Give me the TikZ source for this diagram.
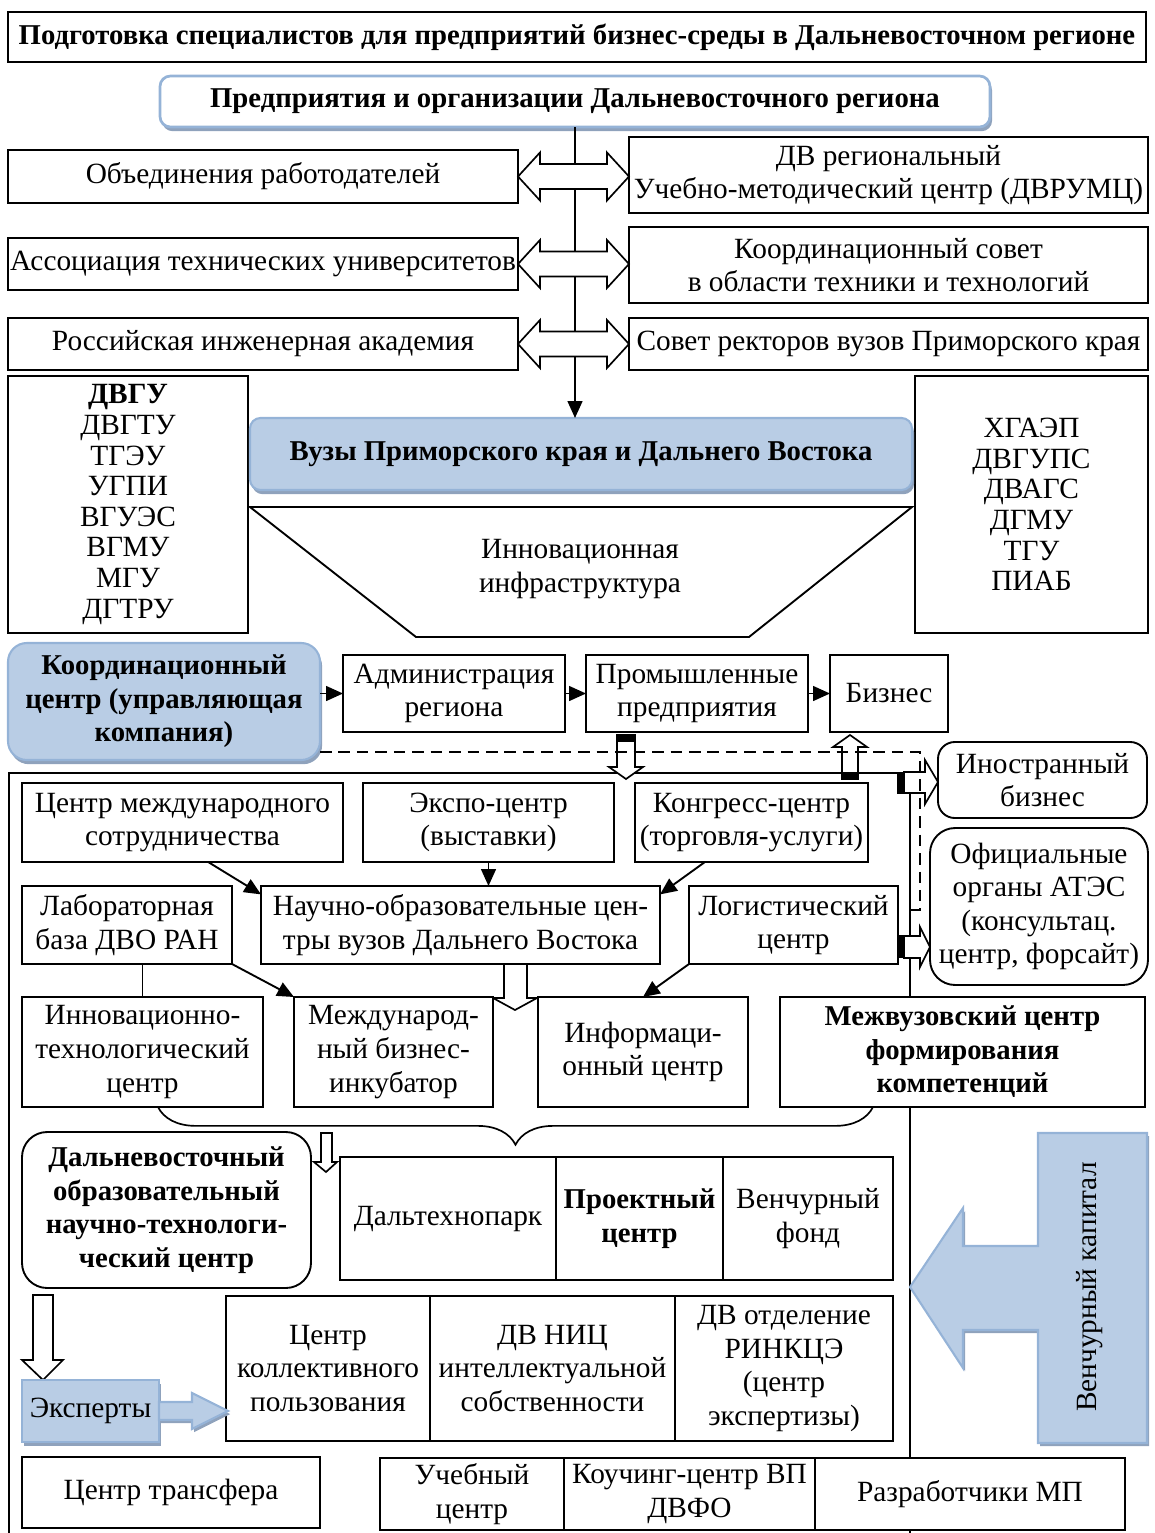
\documentclass[tikz,border=0pt]{standalone}
\usepackage{fontspec}
\setmainfont{Liberation Serif}
\usetikzlibrary{arrows.meta,calc,shadows,decorations.pathreplacing}

\definecolor{boxblue}{HTML}{B9CDE5}
\definecolor{edgeblue}{HTML}{95B3D7}
\definecolor{shadeblue}{HTML}{8FA2BC}
\newcommand\pxunit{0.477pt}

\tikzset{
  txt/.style={font=\fontsize{14pt}{16pt}\selectfont, align=center},
  btext/.style={font=\fontsize{13.7pt}{16pt}\selectfont\bfseries},
  unilist/.style={font=\fontsize{14pt}{14.6pt}\selectfont},
  cell/.style n args={4}{minimum width={(#3-#1)*\pxunit}, minimum height={(#4-#2)*\pxunit},
    at={({(#1+#3)/2},{(#2+#4)/2})}},
  box/.style={txt, draw, line width=0.9pt, fill=white, inner sep=0pt, outer sep=0pt},
  rbox/.style={box, rounded corners=#1},
  bluebox/.style={box, fill=boxblue, draw=edgeblue, line width=1pt, rounded corners=#1,
    drop shadow={shadow xshift=1pt, shadow yshift=-2pt, fill=shadeblue, opacity=1}},
  conn/.style={line width=0.9pt, -{Triangle[length=8pt,width=7pt]}},
  blockarrow/.style={draw, fill=white, line width=0.8pt, line join=miter},
  bluearrow/.style={fill=boxblue, draw=edgeblue, line width=1pt, line join=miter,
    drop shadow={shadow xshift=1pt, shadow yshift=-1.5pt, fill=shadeblue, opacity=1}},
  dashline/.style={line width=0.9pt, dash pattern=on 5.5pt off 3.3pt},
  frameline/.style={line width=0.7pt},
  bracepath/.style={line width=0.8pt, decorate, decoration={brace, mirror, amplitude=18pt}},
}

\begin{document}
\begin{tikzpicture}[x=\pxunit, y=-\pxunit]
\useasboundingbox (0,0) rectangle (1154,1533);

\draw[frameline] (9,1533) -- (9,773) -- (904,773);
\draw[frameline] (910,773) -- (910,1533);

\node[box, btext, cell={8}{12}{1146}{62}] (title) {Подготовка специалистов для предприятий бизнес-среды в Дальневосточном регионе};
\node[bluebox=5pt, fill=white, line width=1.3pt, btext, cell={160}{76}{990}{127}] (pred) {Предприятия и организации Дальневосточного региона};

\node[box, cell={8}{150}{518}{203}] (ob) {Объединения работодателей};
\node[box, cell={629}{137}{1148}{213}] (dvr) {ДВ региональный\\Учебно-методический центр (ДВРУМЦ)};
\node[box, cell={8}{238}{518}{290}] (atu) {Ассоциация технических университетов};
\node[box, cell={629}{227}{1148}{303}] (ks) {Координационный совет\\в области техники и технологий};
\node[box, cell={8}{318}{518}{370}] (ria) {Российская инженерная академия};
\node[box, cell={629}{318}{1148}{370}] (srv) {Совет ректоров вузов Приморского края};

\node[box, unilist, cell={8}{376}{248}{633}] (vl) {\textbf{ДВГУ}\\ДВГТУ\\ТГЭУ\\УГПИ\\ВГУЭС\\ВГМУ\\МГУ\\ДГТРУ};
\node[box, unilist, cell={915}{376}{1148}{633}] (vr) {ХГАЭП\\ДВГУПС\\ДВАГС\\ДГМУ\\ТГУ\\ПИАБ};
\node[bluebox=5pt, btext, cell={250}{418}{912}{490}] (vuz) {Вузы Приморского края и Дальнего Востока};

\draw[conn] (pred.south) -- (pred.south |- vuz.north);
\foreach \l/\r in {ob/dvr,atu/ks,ria/srv}{
  \coordinate (pa) at (\l.east);
  \coordinate (pb) at (\l.east -| \r.west);
  \draw[blockarrow] (pa) -- ++(22,-24) -- ++(0,11.5) -- ($(pb)+(-22,-12.5)$) -- ++(0,-11.5) -- (pb)
    -- ++(-22,24) -- ++(0,-11.5) -- ($(pa)+(22,12.5)$) -- ++(0,11.5) -- cycle;
}

\draw[line width=0.9pt] (250,507) -- (912,507) -- (749,637) -- (416,637) -- cycle;
\node[txt] (innov) at (580,569) {Инновационная\\инфраструктура};

\node[bluebox=9pt, btext, cell={8}{643}{320}{760}] (coord) {Координационный\\центр (управляющая\\компания)};
\node[box, cell={343}{655}{565}{732}] (adm) {Администрация\\региона};
\node[box, cell={586}{655}{808}{732}] (prom) {Промышленные\\предприятия};
\node[box, cell={830}{655}{948}{732}] (biz) {Бизнес};
\draw[conn] (adm.west -| coord.east) -- (adm.west);
\draw[conn] (adm.east) -- (prom.west);
\draw[conn] (prom.east) -- (biz.west);

\node[rbox=8pt, cell={938}{742}{1147}{818}] (inob) {Иностранный\\бизнес};
\node[rbox=12pt, cell={930}{828}{1148}{985}] (apec) {Официальные\\органы АТЭС\\(консультац.\\центр, форсайт)};

\node[box, cell={22}{783}{343}{862}] (cms) {Центр международного\\сотрудничества};
\node[box, cell={363}{783}{614}{862}] (expo) {Экспо-центр\\(выставки)};
\node[box, cell={635}{783}{868}{862}] (kongr) {Конгресс-центр\\(торговля-услуги)};
\node[box, cell={22}{886}{232}{964}] (lab) {Лабораторная\\база ДВО РАН};
\node[box, cell={261}{886}{660}{964}] (nok) {Научно-образовательные цен-\\тры вузов Дальнего Востока};
\node[box, cell={689}{886}{898}{964}] (log) {Логистический\\центр};

\draw[blockarrow] (504,964) -- (527,964) -- (527,998) -- (537,998) -- (515,1010) -- (493,998) -- (504,998) -- cycle;

\node[box, cell={22}{997}{263}{1107}] (itc) {Инновационно-\\технологический\\центр};
\node[box, cell={294}{997}{493}{1107}] (mbi) {Международ-\\ный бизнес-\\инкубатор};
\node[box, cell={538}{997}{748}{1107}] (ic) {Информаци-\\онный центр};
\node[box, btext, cell={780}{997}{1145}{1107}] (mcfk) {Межвузовский центр\\формирования\\компетенций};

\draw[conn] ($(cms.south west)!0.58!(cms.south east)$) -- ([yshift=-4pt]nok.north west);
\draw[conn] (expo.south) -- (expo.south |- nok.north);
\draw[conn] ($(kongr.south west)!0.3!(kongr.south east)$) -- ([yshift=-4pt]nok.north east);
\draw[conn] (lab.south east) -- (mbi.north west);
\draw[line width=0.9pt] (itc.north |- lab.south) -- (itc.north);
\draw[conn] (log.south west) -- (ic.north);

\coordinate (bl) at (158,1107);
\coordinate (br) at (873,1107);
\draw[bracepath] (bl) -- (br);

\node[rbox=12pt, btext, cell={22}{1132}{311}{1288}] (dvont) {Дальневосточный\\образовательный\\научно-технологи-\\ческий центр};
\draw[blockarrow] (321,1133) -- (332,1133) -- (332,1162) -- (337,1162) -- (326,1172) -- (314,1162) -- (321,1162) -- cycle;
\node[box, cell={340}{1157}{556}{1280}] (dtp) {Дальтехнопарк};
\node[box, btext, cell={556}{1157}{723}{1280}] (pc) {Проектный\\центр};
\node[box, cell={723}{1157}{893}{1280}] (vf) {Венчурный\\фонд};

\draw[blockarrow] (33,1295) -- (53,1295) -- (53,1360) -- (63,1360) -- (43,1380) -- (22,1360) -- (33,1360) -- cycle;
\node[bluebox=0pt, cell={22}{1380}{159}{1442}] (exp) {Эксперты};
\node[box, cell={226}{1296}{430}{1441}] (ckp) {Центр\\коллективного\\пользования};
\node[box, cell={430}{1296}{675}{1441}] (nic) {ДВ НИЦ\\интеллектуальной\\собственности};
\node[box, cell={675}{1296}{893}{1441}] (rink) {ДВ отделение\\РИНКЦЭ\\(центр\\экспертизы)};
\draw[bluearrow] (159,1402) -- (192,1402) -- (192,1393) -- (228,1411) -- (192,1429) -- (192,1420) -- (159,1420) -- cycle;

\draw[bluearrow] (910,1287) -- (963,1208) -- (963,1246) -- (1038,1246) -- (1038,1133) -- (1147,1133)
  -- (1147,1443) -- (1038,1443) -- (1038,1330) -- (963,1330) -- (963,1368) -- cycle;
\node[txt, rotate=90] (vk) at (1090,1287) {Венчурный капитал};

\node[box, cell={22}{1457}{320}{1528}] (ctr) {Центр трансфера};
\node[box, cell={380}{1458}{564}{1530}] (uc) {Учебный\\центр};
\node[box, cell={564}{1458}{815}{1530}] (kc) {Коучинг-центр ВП\\ДВФО};
\node[box, cell={815}{1458}{1125}{1530}] (rmp) {Разработчики МП};

\draw[blockarrow] (617,735) -- (635,735) -- (635,767) -- (643,767) -- (626,779) -- (609,767) -- (617,767) -- cycle;
\fill (617,735) rectangle (635,742);
\draw[blockarrow] (842,779) -- (842,747) -- (833,747) -- (850,735) -- (867,747) -- (858,747) -- (858,779) -- cycle;
\fill (842,772) rectangle (858,779);
\draw[blockarrow] (904,772) -- (925,772) -- (925,760) -- (938,782) -- (925,804) -- (925,793) -- (904,793) -- cycle;
\fill (897,772) rectangle (904,794);
\draw[blockarrow] (904,936) -- (920,936) -- (920,927) -- (930,947) -- (920,967) -- (920,958) -- (904,958) -- cycle;
\fill (898,935) rectangle (904,958);

\coordinate (dstart) at (320,752);
\coordinate (dend) at (906,910);
\draw[dashline] (dstart) -| (920,910) -- (dend);
\end{tikzpicture}
\end{document}
